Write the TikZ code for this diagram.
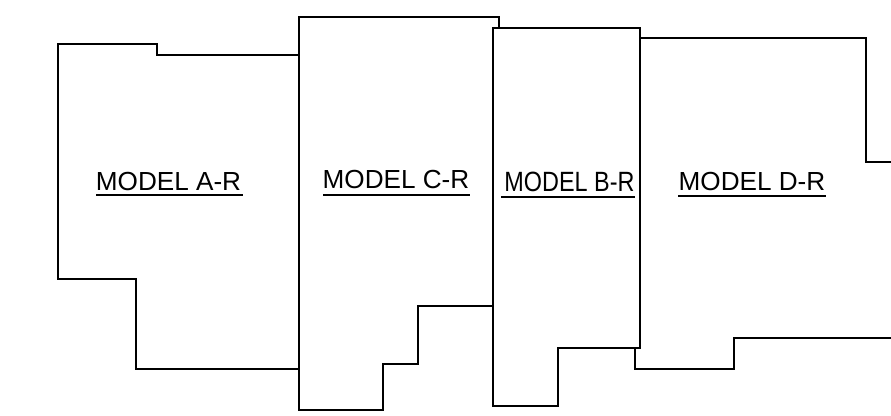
\documentclass[tikz,border=0pt]{standalone}
\usepackage{fontspec}
\setmainfont{Liberation Sans}
\tikzset{
  outline/.style={line width=1.4pt,black,line join=miter},
  modellabel/.style={font=\fontsize{19.6pt}{23pt}\selectfont,inner sep=0pt,anchor=base},
  rule/.style={line width=1.4pt,black}
}
\begin{document}
\begin{tikzpicture}[x=0.75pt,y=-0.75pt]
  \useasboundingbox (0,0) rectangle (891,415);
  % Model A-R
  \draw[outline] (299,55) -- (157,55) -- (157,44) -- (58,44) -- (58,279) -- (136,279) -- (136,369) -- (299,369);
  % Model C-R
  \draw[outline] (499,28) -- (499,17) -- (299,17) -- (299,410) -- (383,410) -- (383,364) -- (418,364) -- (418,306) -- (493,306);
  % Model B-R
  \draw[outline] (493,28) -- (640,28) -- (640,348) -- (558,348) -- (558,406) -- (493,406) -- cycle;
  % Model D-R
  \draw[outline] (640,38) -- (866,38) -- (866,162) -- (891,162);
  \draw[outline] (635,348) -- (635,369) -- (734,369) -- (734,338) -- (891,338);
  % Labels
  \node[modellabel] (labelA) at (168.5,190) {MODEL A-R};
  \node[modellabel] (labelC) at (396,188) {MODEL C-R};
  \node[modellabel,font=\fontsize{20.9pt}{24pt}\selectfont,xscale=0.84] (labelB) at (569.5,191.5) {MODEL B-R};
  \node[modellabel] (labelD) at (752,190) {MODEL D-R};
  % Underlines
  \draw[rule] (96,195) -- (243,195);
  \draw[rule] (323,195) -- (470,195);
  \draw[rule] (501,197) -- (635,197);
  \draw[rule] (678,196) -- (826,196);
\end{tikzpicture}
\end{document}
